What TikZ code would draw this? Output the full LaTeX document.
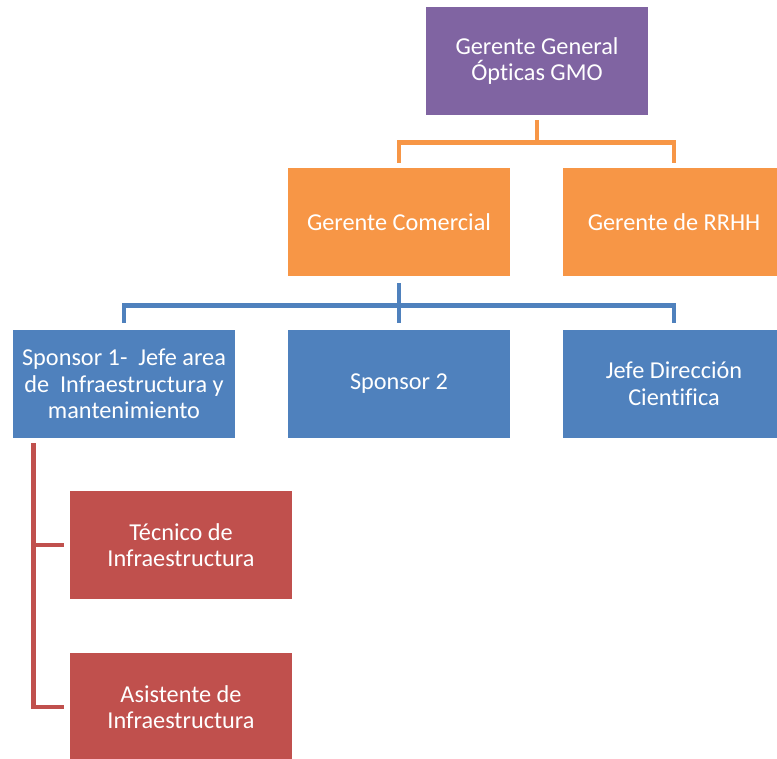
\documentclass[tikz,border=0pt]{standalone}
\usepackage{fontspec}
\setmainfont{Carlito}[Ligatures={NoCommon}]
\usepackage{xcolor}
\usetikzlibrary{calc}

\definecolor{gmopurple}{HTML}{8064A2}
\definecolor{gmoorange}{HTML}{F79646}
\definecolor{gmoblue}{HTML}{4F81BD}
\definecolor{gmored}{HTML}{C0504D}

\tikzset{
  cargo/.style={fill=#1, text=white, minimum width=166.5pt, minimum height=81pt,
    inner sep=1pt, align=center, font=\fontsize{18.2}{20}\selectfont},
  enlace/.style={draw=#1, line width=3.4pt}
}

\begin{document}
\begin{tikzpicture}[x=0.75pt, y=-0.75pt]
  \useasboundingbox (0,0) rectangle (777,758);
  \node[cargo=gmopurple] (gg) at (537,61) {Gerente General\\Ópticas GMO};
  \node[cargo=gmoorange] (gc) at (399,222) {Gerente Comercial};
  \node[cargo=gmoorange] (rrhh) at (674,222) {Gerente de RRHH};
  \node[cargo=gmoblue] (sp1) at (124,384) {Sponsor 1-\ \ Jefe area\\de\ \ Infraestructura y\\mantenimiento};
  \node[cargo=gmoblue] (sp2) at (399,384) {Sponsor 2};
  \node[cargo=gmoblue] (jdc) at (674,384) {Jefe Dirección\\Cientifica};
  \node[cargo=gmored] (tec) at (181,545) {Técnico de\\Infraestructura};
  \node[cargo=gmored] (asis) at (181,707) {Asistente de\\Infraestructura};

  % gerencia
  \coordinate (oj) at ($(gg.south)+(0,27)$);
  \draw[enlace=gmoorange] ($(gg.south)+(0,5)$) -- (oj);
  \draw[enlace=gmoorange] (oj) -| ($(gc.north)+(0,-5)$);
  \draw[enlace=gmoorange] (oj) -| ($(rrhh.north)+(0,-5)$);

  % sponsors
  \coordinate (bj) at ($(gc.south)+(0,29)$);
  \draw[enlace=gmoblue] ($(gc.south)+(0,7)$) -- ($(sp2.north)+(0,-7)$);
  \draw[enlace=gmoblue] (bj) -| ($(sp1.north)+(0,-7)$);
  \draw[enlace=gmoblue] (bj) -| ($(jdc.north)+(0,-7)$);

  % infraestructura
  \coordinate (rj) at ($(sp1.south west)+(21,5)$);
  \draw[enlace=gmored] (rj) |- ($(asis.west)+(-6,0)$);
  \draw[enlace=gmored] (rj |- tec.west) -- ($(tec.west)+(-6,0)$);
\end{tikzpicture}
\end{document}
